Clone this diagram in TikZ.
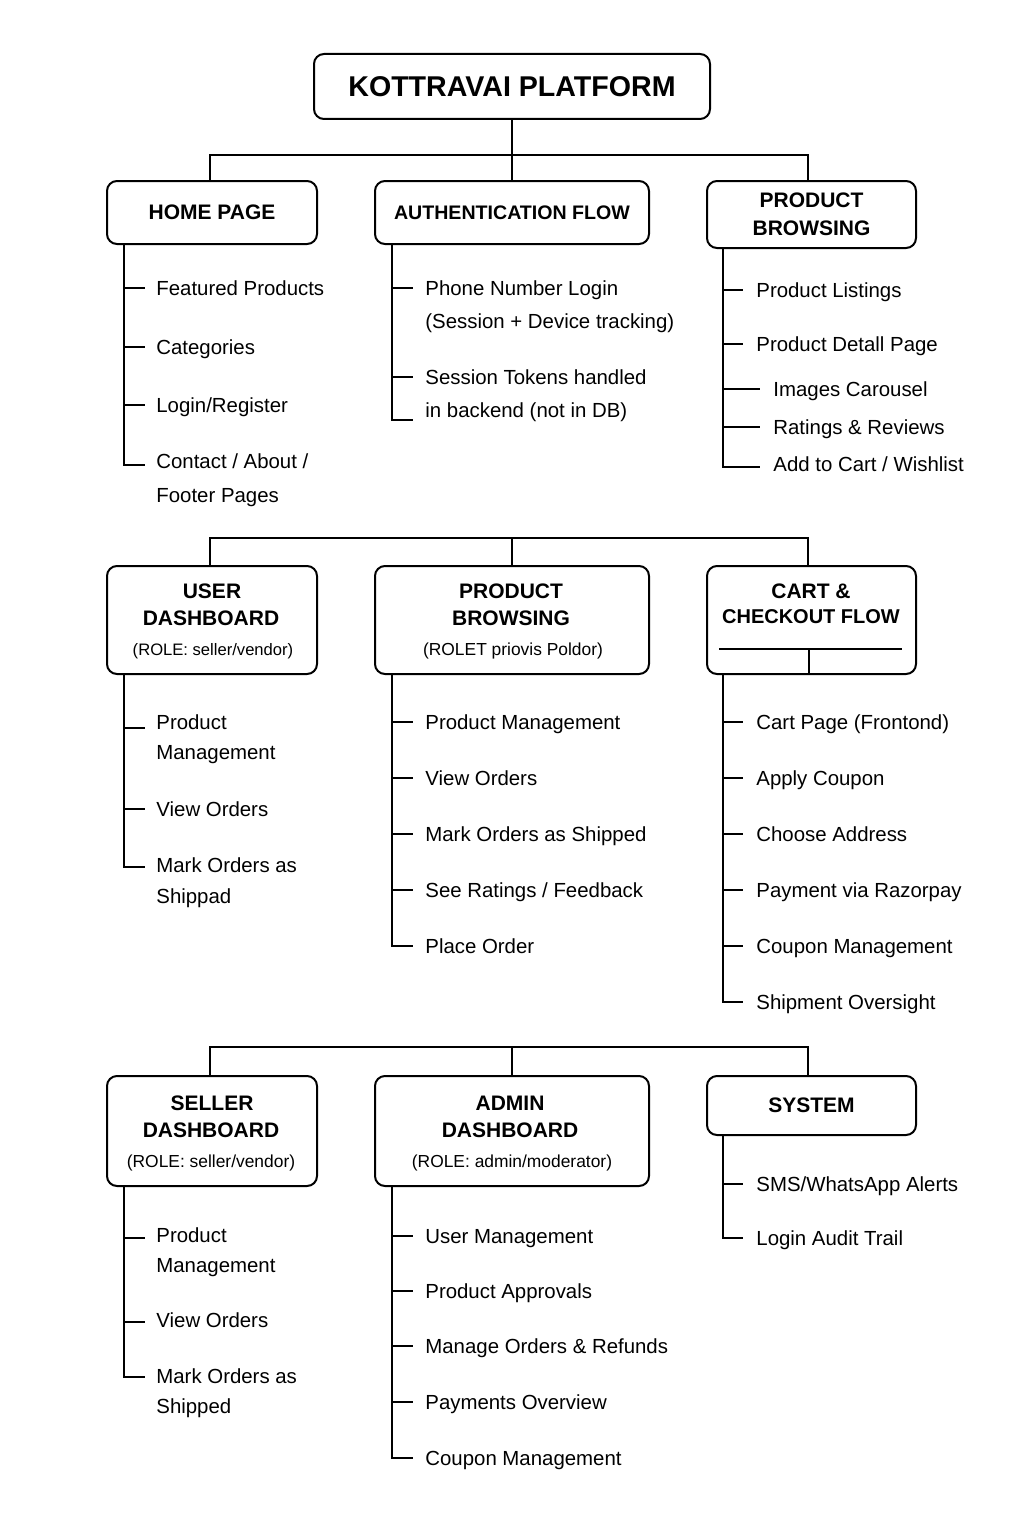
\documentclass[tikz,border=0pt]{standalone}
\usepackage{fontspec}
\setmainfont{Liberation Sans}
\begin{document}
\begin{tikzpicture}[x=0.5pt,y=-0.5pt,
  box/.style={draw, line width=1pt, rounded corners=5pt, inner sep=0pt},
  hd/.style={font=\fontsize{10.5}{14}\selectfont\bfseries, inner sep=0pt, align=center},
  role/.style={font=\fontsize{8.7}{10}\selectfont, inner sep=0pt},
  item/.style={font=\fontsize{10.2}{12}\selectfont, inner sep=0pt, anchor=west, text height=7.3pt, text depth=0pt},
  conn/.style={line width=0.8pt}]
\useasboundingbox[fill=white] (0,0) rectangle (1024,1536);

% ---------- title ----------
\node[box, minimum width=198pt, minimum height=32.5pt, font=\fontsize{14.3}{16}\selectfont\bfseries] (title) at (512,86.5) {KOTTRAVAI PLATFORM};

% ---------- row 1 ----------
\node[box, hd, minimum width=105pt, minimum height=31.5pt] (home) at (212,212.5) {HOME PAGE};
\node[box, minimum width=137pt, minimum height=31.5pt, font=\fontsize{9.8}{12}\selectfont\bfseries] (auth) at (512,212.5) {AUTHENTICATION FLOW};
\node[box, hd, minimum width=104.5pt, minimum height=33.5pt] (pb1) at (811.5,214.5) {PRODUCT\\BROWSING};

\coordinate (j1) at (512,155);
\draw[conn] (title.south) -- (j1);
\draw[conn] ([xshift=-1pt]home.north) |- (j1) -| ([xshift=-1.75pt]pb1.north);
\draw[conn] (auth.north) -- (j1);

% home items
\node[item] (h1) at (156,288) {Featured Products};
\node[item] (h2) at (156,347) {Categories};
\node[item] (h3) at (156,405) {Login/Register};
\node[item] (h4) at (156,461) {Contact / About /};
\node[item] (h5) at (156,495) {Footer Pages};
\draw[conn] ([xshift=9pt]home.south west) |- ([xshift=-5.5pt,yshift=-2pt]h4.west);
\foreach \n in {h1,h2,h3}{\draw[conn] ([xshift=-15.5pt]\n.west) -- ([xshift=-5.5pt]\n.west);}

% auth items
\node[item] (a1) at (425,288) {Phone Number Login};
\node[item] (a2) at (425,321) {(Session + Device tracking)};
\node[item] (a3) at (425,377) {Session Tokens handled};
\node[item] (a4) at (425,410) {in backend (not in DB)};
\draw[conn] ([xshift=9pt]auth.south west) |- ([xshift=-6pt,yshift=-5pt]a4.west);
\foreach \n in {a1,a3}{\draw[conn] ([xshift=-16pt]\n.west) -- ([xshift=-6pt]\n.west);}

% product browsing items
\node[item] (p1) at (756,290) {Product Listings};
\node[item] (p2) at (756,344) {Product Detall Page};
\node[item] (p3) at (773,389) {Images Carousel};
\node[item] (p4) at (773,427) {Ratings \& Reviews};
\node[item] (p5) at (773,464) {Add to Cart / Wishlist};
\draw[conn] ([xshift=8.5pt]pb1.south west) |- ([xshift=-6.5pt,yshift=-1.5pt]p5.west);
\foreach \n in {p1,p2}{\draw[conn] ([xshift=-16pt]\n.west) -- ([xshift=-6.5pt]\n.west);}
\foreach \n in {p3,p4}{\draw[conn] ([xshift=-24.5pt]\n.west) -- ([xshift=-6.5pt]\n.west);}

% ---------- row 2 ----------
\node[box, minimum width=105pt, minimum height=54pt] (ud) at (212,620) {};
\node[hd] (udA) at (212,591) {USER};
\node[hd] (udB) at (211,618) {DASHBOARD};
\node[role, font=\fontsize{8.3}{10}\selectfont] (udC) at (213,651) {(ROLE: seller/vendor)};

\node[box, minimum width=137pt, minimum height=54pt] (pb2) at (512,620) {};
\node[hd] (pbA) at (511,591) {PRODUCT};
\node[hd] (pbB) at (511,618) {BROWSING};
\node[role] (pbC) at (513,651) {(ROLET priovis Poldor)};

\node[box, minimum width=104.5pt, minimum height=54pt] (cart) at (811.5,620) {};
\node[hd] (cA) at (811,591) {CART \&};
\node[hd, font=\fontsize{10}{12}\selectfont\bfseries] (cB) at (811,617) {CHECKOUT FLOW};
\coordinate (cartm) at (809,649);
\draw[conn] ([xshift=6.5pt]cart.west |- cartm) -- ([xshift=-7.5pt]cart.east |- cartm);
\draw[conn] (cartm) -- (cartm |- cart.south);

\coordinate (j2) at (512,538);
\draw[conn] ([xshift=-1pt]ud.north) |- (j2) -| ([xshift=-1.75pt]cart.north);
\draw[conn] (pb2.north) -- (j2);

% user dashboard items
\node[item] (u1) at (156,722) {Product};
\node[item] (u1b) at (156,752) {Management};
\node[item] (u2) at (156,809) {View Orders};
\node[item] (u3) at (156,865) {Mark Orders as};
\node[item] (u3b) at (156,896) {Shippad};
\draw[conn] ([xshift=9pt]ud.south west) |- ([xshift=-5.5pt,yshift=-1pt]u3.west);
\draw[conn] ([xshift=-15.5pt,yshift=-3pt]u1.west) -- ([xshift=-5.5pt,yshift=-3pt]u1.west);
\draw[conn] ([xshift=-15.5pt]u2.west) -- ([xshift=-5.5pt]u2.west);

% product browsing 2 items
\node[item] (b1) at (425,722) {Product Management};
\node[item] (b2) at (425,778) {View Orders};
\node[item] (b3) at (425,834) {Mark Orders as Shipped};
\node[item] (b4) at (425,890) {See Ratings / Feedback};
\node[item] (b5) at (425,946) {Place Order};
\draw[conn] ([xshift=9pt]pb2.south west) |- ([xshift=-6pt]b5.west);
\foreach \n in {b1,b2,b3,b4}{\draw[conn] ([xshift=-16pt]\n.west) -- ([xshift=-6pt]\n.west);}

% cart items
\node[item] (k1) at (756,722) {Cart Page (Frontond)};
\node[item] (k2) at (756,778) {Apply Coupon};
\node[item] (k3) at (756,834) {Choose Address};
\node[item] (k4) at (756,890) {Payment via Razorpay};
\node[item] (k5) at (756,946) {Coupon Management};
\node[item] (k6) at (756,1002) {Shipment Oversight};
\draw[conn] ([xshift=8.5pt]cart.south west) |- ([xshift=-6.5pt]k6.west);
\foreach \n in {k1,k2,k3,k4,k5}{\draw[conn] ([xshift=-16pt]\n.west) -- ([xshift=-6.5pt]\n.west);}

% ---------- row 3 ----------
\node[box, minimum width=105pt, minimum height=55pt] (sd) at (212,1131) {};
\node[hd] (sdA) at (212,1103) {SELLER};
\node[hd] (sdB) at (211,1130) {DASHBOARD};
\node[role] (sdC) at (211,1163) {(ROLE: seller/vendor)};

\node[box, minimum width=137pt, minimum height=55pt] (ad) at (512,1131) {};
\node[hd] (adA) at (510,1103) {ADMIN};
\node[hd] (adB) at (510,1130) {DASHBOARD};
\node[role] (adC) at (512,1163) {(ROLE: admin/moderator)};

\node[box, hd, minimum width=104.5pt, minimum height=29.5pt] (sys) at (811.5,1105.5) {SYSTEM};

\coordinate (j3) at (512,1047);
\draw[conn] ([xshift=-1pt]sd.north) |- (j3) -| ([xshift=-1.75pt]sys.north);
\draw[conn] (ad.north) -- (j3);

% seller items
\node[item] (s1) at (156,1235) {Product};
\node[item] (s1b) at (156,1265) {Management};
\node[item] (s2) at (156,1320) {View Orders};
\node[item] (s3) at (156,1376) {Mark Orders as};
\node[item] (s3b) at (156,1406) {Shipped};
\draw[conn] ([xshift=9pt]sd.south west) |- ([xshift=-5.5pt,yshift=-0.5pt]s3.west);
\draw[conn] ([xshift=-15.5pt,yshift=-1.5pt]s1.west) -- ([xshift=-5.5pt,yshift=-1.5pt]s1.west);
\draw[conn] ([xshift=-15.5pt,yshift=-1pt]s2.west) -- ([xshift=-5.5pt,yshift=-1pt]s2.west);

% admin items
\node[item] (m1) at (425,1236) {User Management};
\node[item] (m2) at (425,1291) {Product Approvals};
\node[item] (m3) at (425,1346) {Manage Orders \& Refunds};
\node[item] (m4) at (425,1402) {Payments Overview};
\node[item] (m5) at (425,1458) {Coupon Management};
\draw[conn] ([xshift=9pt]ad.south west) |- ([xshift=-6pt]m5.west);
\foreach \n in {m1,m2,m3,m4}{\draw[conn] ([xshift=-16pt]\n.west) -- ([xshift=-6pt]\n.west);}

% system items
\node[item] (y1) at (756,1184) {SMS/WhatsApp Alerts};
\node[item] (y2) at (756,1238) {Login Audit Trail};
\draw[conn] ([xshift=8.5pt]sys.south west) |- ([xshift=-6.5pt]y2.west);
\draw[conn] ([xshift=-16pt]y1.west) -- ([xshift=-6.5pt]y1.west);
\end{tikzpicture}
\end{document}
